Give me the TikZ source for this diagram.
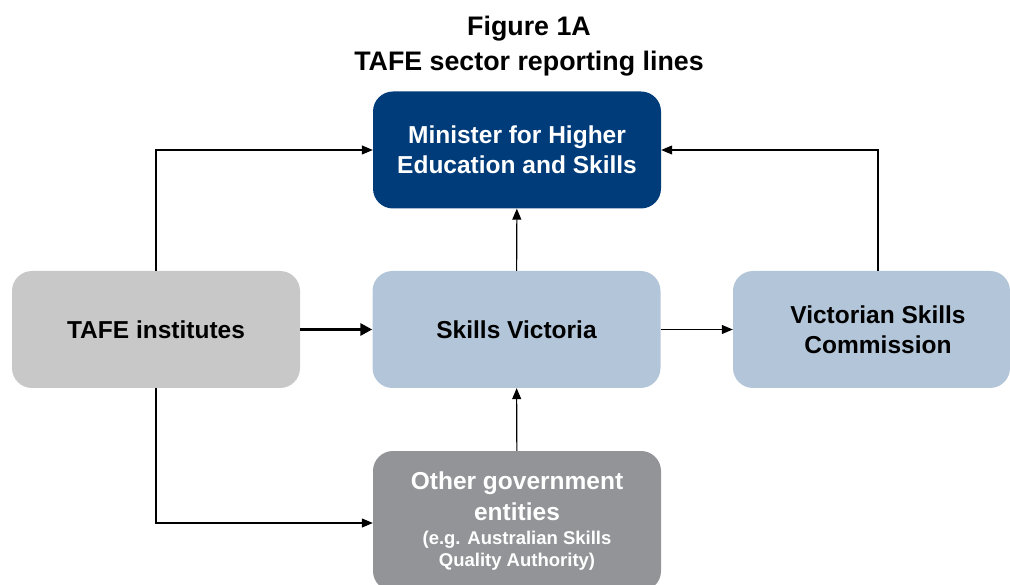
\documentclass[tikz,border=0pt]{standalone}
\usepackage{fontspec}
\setmainfont{Liberation Sans}
\usetikzlibrary{arrows.meta,positioning,calc}

\definecolor{ministerblue}{HTML}{003C7A}
\definecolor{skillsblue}{HTML}{B3C6D9}
\definecolor{tafegray}{HTML}{C8C8C9}
\definecolor{othergray}{HTML}{929497}

\begin{document}
\begin{tikzpicture}[x=1pt, y=-1pt,
    box/.style={rounded corners=20pt, minimum width=288pt, minimum height=117pt,
      inner sep=0pt, align=center, font=\bfseries\fontsize{24.5}{30}\selectfont},
    link/.style={line width=1.1pt, -{Triangle[length=11pt,width=9pt]}},
    mainlink/.style={line width=3.5pt, -{Triangle[length=12pt,width=12pt]}}]
          % Define frame
          \useasboundingbox (0,0) rectangle (1010,585);
          \clip (0,0) rectangle (1010,585);

          % Title
          \node[align=center, font=\bfseries\fontsize{26.8}{35}\selectfont] (title) at (529,46)
            {Figure 1A\\TAFE sector reporting lines};

          % Define boxes
          \node[box, fill=ministerblue, text=white] (minister) at (517,150)
            {Minister for Higher\\Education and Skills};
          \node[box, fill=tafegray] (tafe) at (156,329.5) {TAFE institutes};
          \node[box, fill=skillsblue] (skills) at (516.5,329.5) {Skills Victoria};
          \node[box, fill=skillsblue, minimum width=277pt] (vsc) at (871.5,329.5)
            {\hspace*{13pt}Victorian Skills\\\hspace*{13pt}Commission};
          \node[box, fill=othergray, text=white, minimum height=140pt] (other) at (517,521)
            {Other government\\[1pt]entities\\[-6pt]
             {\fontsize{18.5}{22}\selectfont (e.g. Australian Skills}\\[-8pt]
             {\fontsize{18.5}{22}\selectfont Quality Authority)}};

          % Draw reporting lines
          \draw[link] (tafe.north) |- (minister.west);
          \draw[link] (tafe.south) |- ([yshift=-2pt]other.west);
          \draw[mainlink] (tafe) -- (skills);
          \draw[link] (skills) -- (vsc);
          \draw[link] (skills) -- (minister);
          \draw[link] (other) -- (skills);
          \draw[link] ([xshift=6.5pt]vsc.north) |- (minister.east);
        \end{tikzpicture}
\end{document}
